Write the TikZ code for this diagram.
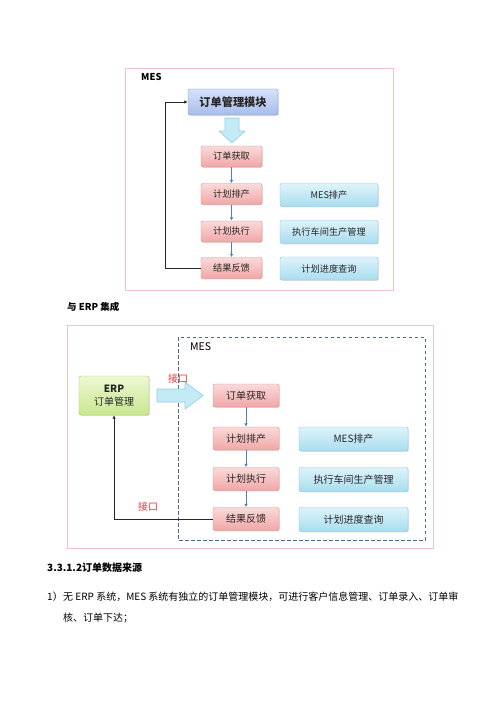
\documentclass[tikz,border=0pt]{standalone}
\usepackage{fontspec}
\setmainfont{Noto Sans CJK SC}
\usetikzlibrary{shadows,arrows.meta}

\definecolor{framepink}{HTML}{F0C4C4}
\definecolor{redtop}{HTML}{FADADA}
\definecolor{redbot}{HTML}{F2A6A6}
\definecolor{redline}{HTML}{D98A8A}
\definecolor{bluetop}{HTML}{DDF3FA}
\definecolor{bluebot}{HTML}{A9DDF0}
\definecolor{blueline}{HTML}{86C6DE}
\definecolor{modtop}{HTML}{D6E2FA}
\definecolor{modbot}{HTML}{A6BDEB}
\definecolor{modline}{HTML}{7D98CC}
\definecolor{erptop}{HTML}{EEF8D4}
\definecolor{erpbot}{HTML}{C8E68E}
\definecolor{erpline}{HTML}{A2C868}
\definecolor{flowblue}{HTML}{4F7FC2}
\definecolor{dashblue}{HTML}{4D6A8C}
\definecolor{hollowfill}{HTML}{C4EAF6}
\definecolor{hollowline}{HTML}{8FCFE2}
\definecolor{ifred}{HTML}{E8383D}

\tikzset{
  frame/.style={draw=framepink, line width=0.6pt},
  flowbox/.style={rounded corners=2pt, inner sep=0pt, align=center, text=black!85,
    drop shadow={opacity=0.25, shadow xshift=0.8pt, shadow yshift=-0.8pt}},
  redboxA/.style={flowbox, draw=redline, top color=redtop, bottom color=redbot,
    minimum width=61pt, minimum height=21pt, font=\fontsize{9.2}{10}\selectfont},
  redboxB/.style={redboxA, minimum width=66pt, minimum height=23pt, font=\fontsize{10}{11}\selectfont},
  blueboxA/.style={flowbox, draw=blueline, top color=bluetop, bottom color=bluebot,
    minimum width=98pt, minimum height=23pt, font=\fontsize{9.2}{10}\selectfont},
  blueboxB/.style={blueboxA, minimum width=109pt, minimum height=24pt, font=\fontsize{10}{11}\selectfont},
  modbox/.style={flowbox, draw=modline, top color=modtop, bottom color=modbot,
    minimum width=90pt, minimum height=26pt, font=\bfseries\fontsize{11.2}{12}\selectfont},
  erpbox/.style={flowbox, draw=erpline, top color=erptop, bottom color=erpbot,
    minimum width=70pt, minimum height=39pt, font=\fontsize{10}{12.5}\selectfont},
  hollow/.style={draw=hollowline, fill=hollowfill, line width=0.6pt, line join=round},
  flowarrow/.style={draw=flowblue, line width=0.7pt, -{Latex[length=3.5pt,width=3.5pt]}},
  loopline/.style={draw=black!85, line width=1pt, -{Latex[length=3.5pt,width=3.5pt]}},
  mesdash/.style={draw=dashblue, line width=0.8pt, dash pattern=on 3.5pt off 2.5pt},
  iflabel/.style={text=ifred, font=\fontsize{10}{11}\selectfont, inner sep=0pt},
  bodytext/.style={anchor=west, inner sep=0pt, font=\fontsize{10}{12}\selectfont}
}

\begin{document}
\begin{tikzpicture}[x=1pt, y=-1pt]
\useasboundingbox[fill=white] (0,0) rectangle (500,707);

% Top diagram: MES on its own
\draw[frame] (125,68) rectangle (393,290);
\node[anchor=west, inner sep=0pt, font=\bfseries\fontsize{9.5}{10}\selectfont] (mesA) at (141,77) {MES};
\node[modbox] (orderMod) at (233,102) {订单管理模块};

% Hollow arrow below the module
\draw[hollow] (225,118) -- (239,118) -- (239,131) -- (245,131) -- (232,143)
  -- (219,131) -- (225,131) -- cycle;

% The flow, left column
\node[redboxA] (getA) at (231.5,156.5) {订单获取};
\node[redboxA] (planA) at (231.5,194) {计划排产};
\node[redboxA] (runA) at (231.5,231.5) {计划执行};
\node[redboxA] (backA) at (231.5,268) {结果反馈};

% Right column
\node[blueboxA] (mesPlanA) at (329,195) {MES排产};
\node[blueboxA] (shopA) at (329,232) {执行车间生产管理};
\node[blueboxA] (queryA) at (329,268.5) {计划进度查询};

\draw[flowarrow] (getA) -- (planA);
\draw[flowarrow] (planA) -- (runA);
\draw[flowarrow] (runA) -- (backA);
\draw[loopline] (backA.west) -- (165,268) |- (orderMod.west);

% Heading between the two diagrams
\node[anchor=west, inner sep=0pt, font=\bfseries\fontsize{9.5}{11}\selectfont] (erpHead) at (67,307) {与 ERP 集成};

% Bottom diagram: MES with ERP
\draw[frame] (67,325) rectangle (433,548);
\draw[mesdash] (178,337) rectangle (425,540);
\node[anchor=west, inner sep=0pt, font=\fontsize{10.5}{12}\selectfont] (mesB) at (190,347) {MES};
\node[erpbox] (erp) at (114,395.5) {\textbf{ERP}\\订单管理};

% Hollow arrow from ERP into MES
\draw[hollow] (157,389) -- (185,389) -- (185,382) -- (203,395.5) -- (185,409)
  -- (185,402) -- (157,402) -- cycle;
\node[iflabel] (ifIn) at (178,379) {接口};

\node[redboxB] (getB) at (246,395.5) {订单获取};
\node[redboxB] (planB) at (246,438.5) {计划排产};
\node[redboxB] (runB) at (246,479) {计划执行};
\node[redboxB] (backB) at (246,519) {结果反馈};

\node[blueboxB] (mesPlanB) at (353.5,439) {MES排产};
\node[blueboxB] (shopB) at (353.5,479.5) {执行车间生产管理};
\node[blueboxB] (queryB) at (353.5,519.5) {计划进度查询};

\draw[flowarrow] (getB) -- (planB);
\draw[flowarrow] (planB) -- (runB);
\draw[flowarrow] (runB) -- (backB);
\draw[loopline] (backB.west) -| (erp.south);
\node[iflabel] (ifOut) at (148,507) {接口};

% Text below
\node[bodytext, font=\bfseries\fontsize{10}{12}\selectfont] (secHead) at (47,568) {3.3.1.2订单数据来源};
\node[bodytext] (itemNo) at (47,597) {1）};
\node[bodytext] (itemLine1) at (63,597) {无 ERP 系统，MES 系统有独立的订单管理模块，可进行客户信息管理、订单录入、订单审};
\node[bodytext] (itemLine2) at (63,618) {核、订单下达；};
\end{tikzpicture}
\end{document}
